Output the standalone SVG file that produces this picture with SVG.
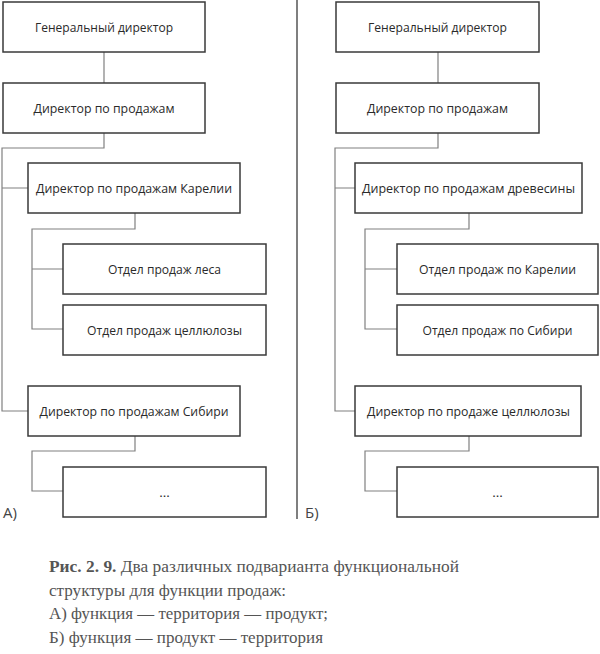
<svg xmlns="http://www.w3.org/2000/svg" width="600" height="654" viewBox="0 0 600 654">
<style>
.box{fill:#fff;stroke:#3a3a3a;stroke-width:1.5}
.lbl{font-family:"Open Sans","Noto Sans",sans-serif;font-size:13.5px;fill:#2a2a2a;text-anchor:middle}
.con{fill:none;stroke:#808080;stroke-width:1.2}
.side{font-family:"Open Sans","Noto Sans",sans-serif;font-size:15px;fill:#444}
.cap{font-family:"Liberation Serif","DejaVu Serif",serif;font-size:17.5px;fill:#555}
</style>
<rect width="600" height="654" fill="#fff"/>
<g id="connectors">
<path class="con" d="M104 52V83M104 133V148H2V411H28M2 188H28M135 213V229H32V329H63M32 269H63M135 436V451H32V491H63"/>
<path class="con" d="M438 52V83M438 133V148H335V411H355M335 188H355M469 213V229H365V329H397M365 269H397M469 436V451H365V491H397"/>
</g>
<line x1="297" y1="0" x2="297" y2="519" stroke="#555" stroke-width="1.5"/>
<g id="a1"><rect class="box" x="3" y="2" width="202" height="50"/><text class="lbl" x="104" y="31.5" textLength="138" lengthAdjust="spacingAndGlyphs">Генеральный директор</text></g>
<g id="a2"><rect class="box" x="3" y="83" width="202" height="50"/><text class="lbl" x="104" y="112.5" textLength="141" lengthAdjust="spacingAndGlyphs">Директор по продажам</text></g>
<g id="a3"><rect class="box" x="28" y="163" width="212" height="50"/><text class="lbl" x="134" y="192.5" textLength="196" lengthAdjust="spacingAndGlyphs">Директор по продажам Карелии</text></g>
<g id="a4"><rect class="box" x="63" y="244" width="203" height="50"/><text class="lbl" x="164.5" y="273.5" textLength="113" lengthAdjust="spacingAndGlyphs">Отдел продаж леса</text></g>
<g id="a5"><rect class="box" x="63" y="305" width="203" height="50"/><text class="lbl" x="164.5" y="334.5" textLength="155" lengthAdjust="spacingAndGlyphs">Отдел продаж целлюлозы</text></g>
<g id="a6"><rect class="box" x="28" y="386" width="212" height="50"/><text class="lbl" x="134" y="415.5" textLength="189" lengthAdjust="spacingAndGlyphs">Директор по продажам Сибири</text></g>
<g id="a7"><rect class="box" x="63" y="467" width="203" height="50"/><text class="lbl" x="164.5" y="497">...</text></g>
<g id="b1"><rect class="box" x="336" y="2" width="203" height="50"/><text class="lbl" x="437.5" y="31.5" textLength="139" lengthAdjust="spacingAndGlyphs">Генеральный директор</text></g>
<g id="b2"><rect class="box" x="336" y="83" width="203" height="50"/><text class="lbl" x="437.5" y="112.5" textLength="141" lengthAdjust="spacingAndGlyphs">Директор по продажам</text></g>
<g id="b3"><rect class="box" x="355" y="163" width="227" height="50"/><text class="lbl" x="468.5" y="192.5" textLength="213" lengthAdjust="spacingAndGlyphs">Директор по продажам древесины</text></g>
<g id="b4"><rect class="box" x="397" y="244" width="201" height="50"/><text class="lbl" x="497.5" y="273.5" textLength="157" lengthAdjust="spacingAndGlyphs">Отдел продаж по Карелии</text></g>
<g id="b5"><rect class="box" x="397" y="305" width="201" height="50"/><text class="lbl" x="497.5" y="334.5" textLength="150" lengthAdjust="spacingAndGlyphs">Отдел продаж по Сибири</text></g>
<g id="b6"><rect class="box" x="355" y="386" width="226" height="50"/><text class="lbl" x="468.5" y="415.5" textLength="203" lengthAdjust="spacingAndGlyphs">Директор по продаже целлюлозы</text></g>
<g id="b7"><rect class="box" x="397" y="467" width="201" height="50"/><text class="lbl" x="497.5" y="497">...</text></g>
<text class="side" x="3" y="518">А)</text>
<text class="side" x="305" y="518">Б)</text>
<text class="cap" x="49" y="572" textLength="410" lengthAdjust="spacingAndGlyphs"><tspan font-weight="bold">Рис. 2. 9.</tspan> Два различных подварианта функциональной</text>
<text class="cap" x="49" y="595.5" textLength="237" lengthAdjust="spacingAndGlyphs">структуры для функции продаж:</text>
<text class="cap" x="49" y="619" textLength="279" lengthAdjust="spacingAndGlyphs">А) функция — территория — продукт;</text>
<text class="cap" x="49" y="642.5" textLength="274" lengthAdjust="spacingAndGlyphs">Б) функция — продукт — территория</text>
</svg>
